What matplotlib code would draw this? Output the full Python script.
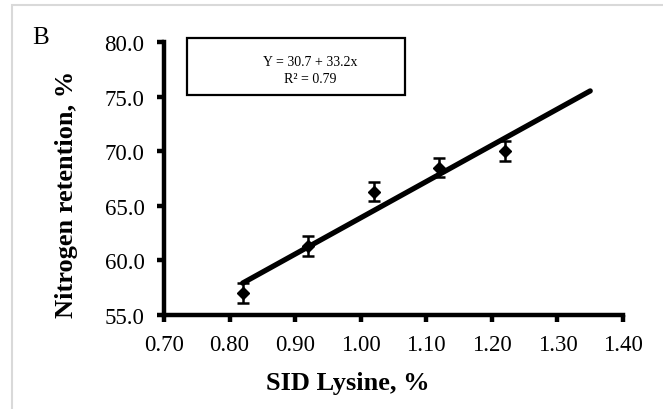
import matplotlib
matplotlib.use("Agg")
import matplotlib.pyplot as plt
from matplotlib.patches import Rectangle
import numpy as np

# Data
lysine = [0.82, 0.92, 1.02, 1.12, 1.22]
n_retention = [57.0, 61.3, 66.3, 68.5, 70.0]
sem = [0.9, 0.9, 0.9, 0.9, 0.9]
intercept = 30.7
slope = 33.2
fit_x = [0.82, 1.35]
xticks = [0.70, 0.80, 0.90, 1.00, 1.10, 1.20, 1.30, 1.40]
yticks = [55.0, 60.0, 65.0, 70.0, 75.0, 80.0]

plt.rcParams['font.family'] = ['Liberation Serif', 'DejaVu Serif']

fig = plt.figure(figsize=(6.63, 4.10), dpi=100)
# light gray frame (left & top)
fig.add_artist(Rectangle((12/663, -0.1), 1.2, (1 - 6/410) + 0.1, transform=fig.transFigure,
                         fill=False, edgecolor='#d9d9d9', linewidth=1.5))

ax = fig.add_axes([164/663, 1 - 316/410, (623 - 164)/663, (316 - 43)/410])

fx = np.array(fit_x)
ax.plot(fx, intercept + slope * fx, color='black', linewidth=3.8, solid_capstyle='round', zorder=3)
ax.errorbar(lysine, n_retention, yerr=sem, fmt='D', color='black', markersize=5.8,
            ecolor='black', elinewidth=1.8, capsize=4.5, capthick=1.8, zorder=4)

ax.set_xlim(0.70, 1.40)
ax.set_ylim(55, 80)
ax.set_xticks(xticks)
ax.set_xticklabels([f"{v:.2f}" for v in xticks])
ax.set_yticks(yticks)
ax.set_yticklabels([f"{v:.1f}" for v in yticks])

for s in ['top', 'right']:
    ax.spines[s].set_visible(False)
for s in ['left', 'bottom']:
    ax.spines[s].set_linewidth(3.2)
ax.tick_params(axis='both', direction='out', length=5, width=3.2, labelsize=16.5, colors='black')
ax.tick_params(axis='y', pad=9)
ax.tick_params(axis='x', pad=9)

ax.set_xlabel('SID Lysine, %', fontsize=19, fontweight='bold')
ax.xaxis.set_label_coords((347.5 - 164) / 459, (316 - 372) / 273)
ax.set_ylabel('Nitrogen retention, %', fontsize=19, fontweight='bold')
ax.yaxis.set_label_coords((78 - 164) / 459, (316 - 194) / 273)

# equation box
fig.add_artist(Rectangle((187/663, 1 - 96/410), (405 - 187)/663, (96 - 39)/410,
                         transform=fig.transFigure, fill=False, edgecolor='black', linewidth=1.6))
fig.text(310/663, 1 - 62/410, 'Y = 30.7 + 33.2x', ha='center', va='center', fontsize=10)
fig.text(310/663, 1 - 80/410, 'R² = 0.79', ha='center', va='center', fontsize=10)

fig.text(32/663, 1 - 44/410, 'B', fontsize=18, ha='left', va='baseline')

fig.savefig('out.png', dpi=100)
